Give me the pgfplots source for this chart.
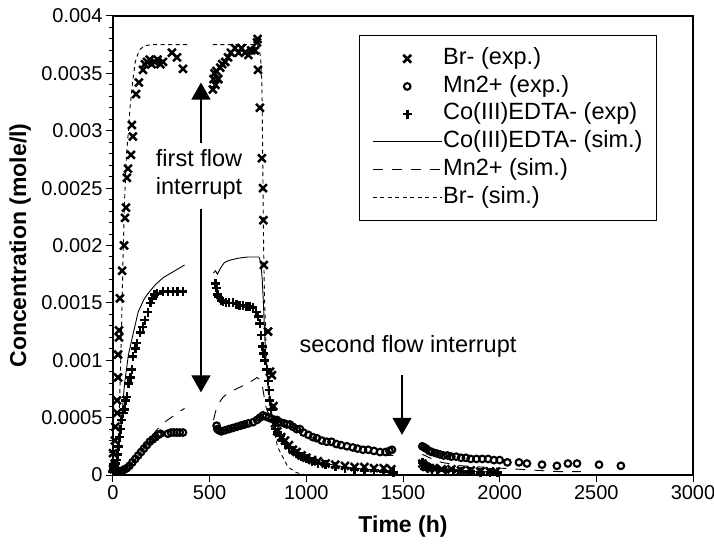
\documentclass[border=0pt]{standalone}
\usepackage{fontspec}
\setmainfont{Liberation Sans}
\usepackage{pgfplots}
\pgfplotsset{compat=1.18}
\usetikzlibrary{arrows.meta}

\pgfplotsset{
  leglines/.style={legend image code/.code={\draw[##1] (0pt,0pt) -- (69pt,0pt);}},
  legmarks/.style={legend image code/.code={\draw[mark repeat=2,mark phase=2,##1] plot coordinates {(0pt,0pt)(34.5pt,0pt)(69pt,0pt)};}},
}

\begin{document}
\begin{tikzpicture}
\begin{axis}[
  width=580pt, height=459pt, scale only axis,
  xmin=0, xmax=3000, ymin=0, ymax=0.004,
  xtick={0,500,1000,1500,2000,2500,3000},
  xticklabels={0,500,1000,1500,2000,2500,3000},
  ytick={0,0.0005,0.001,0.0015,0.002,0.0025,0.003,0.0035,0.004},
  yticklabels={0,0.0005,0.001,0.0015,0.002,0.0025,0.003,0.0035,0.004},
  scaled y ticks=false,
  minor y tick num=4,
  tick align=outside, xtick pos=bottom, ytick pos=left,
  major tick length=7pt, minor tick length=4pt,
  axis line style={line width=1.2pt},
  every tick/.style={black, line width=1pt},
  tick label style={font=\fontsize{20}{23}\selectfont},
  xlabel={Time (h)}, ylabel={Concentration (mole/l)},
  label style={font=\fontsize{23}{26}\selectfont\bfseries},
  xlabel style={at={(axis description cs:0.5,-0.113)}, anchor=center},
  ylabel style={at={(axis description cs:-0.160,0.5)}, anchor=center},
  unbounded coords=jump,
  legend cell align=left,
  legend style={at={(rel axis cs:0.9379,0.9586)}, anchor=north east,
    draw=black, line width=1pt, inner xsep=13pt, inner ysep=11pt,
    row sep=3.2pt,
    font=\fontsize{23.5}{28}\selectfont,
    nodes={inner sep=1pt, text height=17pt, text depth=5.5pt}},
]

% Br- (exp.)
\addplot[only marks, line width=2.5pt, mark=x, mark size=5.5pt, legmarks] coordinates {
(3,0.00005)(8,0.0001)(0,0.00019)(10,0.0003)(12,0.00042)(21,0.00054)(21,0.00065)(26,0.00085)(26,0.00105)(31,0.0012)(31,0.00126)(36,0.00154)(47,0.00178)(57,0.0020)(62,0.00224)(67,0.00233)(72,0.00259)(78,0.00267)(93,0.00279)(98,0.00305)(103,0.00295)(119,0.00332)(134,0.00342)(155,0.00353)(165,0.00358)(176,0.0036)(190,0.00362)(200,0.00358)(215,0.0036)(230,0.00362)(245,0.00358)(259,0.0036)(305,0.00368)(331,0.00364)(362,0.00354)
(517,0.00336)(520,0.00345)(525,0.0035)(530,0.0034)(535,0.00352)(545,0.00345)(555,0.00355)(565,0.00358)(580,0.0036)(595,0.00364)(610,0.00368)(631,0.00372)(650,0.00368)(665,0.00372)(683,0.00368)(700,0.00366)(715,0.0037)(734,0.0037)(745,0.00377)(748,0.0038)(750,0.00353)(760,0.0032)(770,0.00276)(776,0.0025)(778,0.00222)(780,0.00183)(802,0.00125)(812,0.0009)(822,0.00087)(830,0.0006)(838,0.00045)(850,0.00038)(870,0.00033)(890,0.0003)(910,0.00026)(930,0.00022)(950,0.0002)(975,0.00017)(1000,0.00015)(1030,0.00013)(1060,0.00012)(1100,0.0001)(1150,0.00009)(1200,0.00008)(1250,0.00007)(1300,0.00007)(1350,0.00006)(1400,0.00006)(1440,0.00005)
(1600,0.0001)(1610,0.00008)(1620,0.00007)(1640,0.00006)(1660,0.00006)(1700,0.00005)(1750,0.00005)(1800,0.00004)(1850,0.00004)(1900,0.00003)(1950,0.00003)(1980,0.00003)
};
\addlegendentry{Br- (exp.)}

% Mn2+ (exp.)
\addplot[only marks, line width=2.1pt, mark=o, mark size=3.3pt, legmarks] coordinates {
(0,0.00008)(5,0.00006)(10,0.00005)(15,0.00004)(20,0.00004)(25,0.00003)(30,0.00003)(40,0.00003)(50,0.00004)(60,0.00005)(72,0.00006)(85,0.00008)(100,0.00011)(115,0.00014)(130,0.00017)(145,0.0002)(160,0.00023)(175,0.00026)(190,0.00029)(205,0.00031)(220,0.00033)(235,0.00035)(245,0.00036)(284,0.00036)(300,0.00037)(315,0.00037)(330,0.00037)(345,0.00037)(362,0.00037)
(536,0.00043)(540,0.0004)(548,0.00039)(560,0.00038)(580,0.00039)(600,0.0004)(620,0.00041)(640,0.00042)(660,0.00043)(680,0.00044)(700,0.00045)(724,0.00046)(745,0.00048)(760,0.0005)(776,0.00052)(790,0.00051)(805,0.0005)(820,0.00049)(835,0.00048)(848,0.00048)(865,0.00046)(885,0.00045)(900,0.00044)(915,0.00044)(931,0.00042)(950,0.0004)(967,0.0004)(985,0.00037)(1010,0.00035)(1034,0.00033)(1055,0.00032)(1080,0.0003)(1105,0.00029)(1130,0.00029)(1155,0.00027)(1180,0.00026)(1210,0.00025)(1240,0.00024)(1265,0.00023)(1293,0.00022)(1320,0.00022)(1350,0.00021)(1381,0.0002)(1410,0.0002)(1430,0.00021)(1443,0.00022)
(1600,0.00025)(1610,0.00024)(1620,0.00023)(1635,0.00021)(1650,0.0002)(1670,0.00019)(1690,0.00018)(1710,0.00017)(1730,0.00017)(1750,0.00016)(1775,0.00016)(1800,0.00015)(1825,0.00015)(1850,0.00014)(1880,0.00014)(1910,0.00014)(1940,0.00014)(1970,0.00013)(2000,0.00013)(2040,0.00011)(2100,0.00011)(2141,0.0001)(2219,0.00009)(2296,0.00008)(2353,0.0001)(2400,0.0001)(2514,0.00009)(2627,0.00008)
};
\addlegendentry{Mn2+ (exp.)}

% Co(III)EDTA- (exp)
\addplot[only marks, line width=2.7pt, mark=+, mark size=4.5pt, legmarks] coordinates {
(0,0.00003)(5,0.00005)(10,0.00008)(15,0.0001)(20,0.00013)(25,0.00018)(30,0.00025)(35,0.00033)(40,0.0004)(45,0.00048)(52,0.00054)(60,0.00057)(65,0.00065)(72,0.00068)(80,0.0008)(90,0.00085)(98,0.00092)(103,0.00103)(115,0.0011)(124,0.00115)(140,0.00124)(155,0.00129)(165,0.00135)(181,0.00142)(195,0.0015)(202,0.00154)(215,0.00157)(228,0.00158)(259,0.0016)(285,0.0016)(310,0.0016)(335,0.0016)(362,0.0016)
(530,0.00167)(536,0.00163)(540,0.00157)(548,0.00155)(560,0.00152)(569,0.00151)(585,0.0015)(600,0.0015)(621,0.0015)(640,0.00149)(655,0.00148)(672,0.00148)(690,0.00147)(705,0.00147)(724,0.00146)(740,0.00142)(750,0.00138)(760,0.00132)(766,0.00122)(772,0.00112)(780,0.00106)(786,0.001)(796,0.00092)(802,0.00082)(807,0.00074)(812,0.00065)(818,0.00057)(828,0.00048)(838,0.0004)(850,0.00037)(864,0.00034)(877,0.0003)(890,0.00027)(910,0.00024)(930,0.00021)(950,0.00019)(975,0.00016)(1000,0.00014)(1030,0.00012)(1060,0.0001)(1100,0.00009)(1150,0.00007)(1200,0.00006)(1250,0.00005)(1300,0.00004)(1350,0.00004)(1400,0.00003)(1450,0.00002)
(1600,0.00011)(1605,0.00009)(1615,0.00007)(1630,0.00006)(1650,0.00005)(1680,0.00005)(1720,0.00004)(1760,0.00004)(1800,0.00003)(1850,0.00003)(1900,0.00002)(1950,0.00002)(1990,0.00002)
};
\addlegendentry{Co(III)EDTA- (exp)}

% Co(III)EDTA- (sim.)
\addplot[black, line width=0.9pt, leglines] coordinates {
(0,0)(20,0.0001)(40,0.0004)(60,0.0008)(80,0.00105)(100,0.0012)(130,0.00142)(160,0.00153)(180,0.00158)(220,0.00166)(260,0.00172)(300,0.00176)(340,0.0018)(370,0.00183)
(450,nan)
(520,0.00176)(530,0.00178)(540,0.00175)(555,0.0018)(575,0.00185)(600,0.00187)(650,0.00189)(700,0.0019)(755,0.0019)(765,0.00185)(772,0.0017)(778,0.0015)(785,0.0012)(792,0.001)(800,0.0008)(815,0.0006)(830,0.00045)(850,0.00035)(900,0.00025)(950,0.00019)(1000,0.00015)(1100,0.0001)(1200,0.00007)(1300,0.00005)(1450,0.00003)
(1500,nan)
(1600,0.0001)(1700,0.00006)(1800,0.00004)(1900,0.00003)(2000,0.00002)
};
\addlegendentry{Co(III)EDTA- (sim.)}

% Mn2+ (sim.)
\addplot[black, line width=0.9pt, dash pattern=on 10pt off 9pt, leglines] coordinates {
(0,0)(50,0.00003)(100,0.0001)(150,0.00022)(200,0.00034)(250,0.00044)(300,0.0005)(340,0.00055)(370,0.00058)
(450,nan)
(520,0.00048)(530,0.00055)(545,0.00062)(570,0.00068)(600,0.00072)(650,0.00076)(700,0.0008)(745,0.00085)(760,0.00083)(770,0.0008)(780,0.0007)(790,0.0006)(800,0.00055)(820,0.0005)(850,0.00047)(900,0.00043)(950,0.00039)(1000,0.00035)(1100,0.00027)(1200,0.00023)(1300,0.0002)(1400,0.00017)(1450,0.00017)
(1500,nan)
(1600,0.00018)(1650,0.00014)(1700,0.00011)(1800,0.00008)(1900,0.00007)(2000,0.00006)(2100,0.00005)(2200,0.00004)(2300,0.00003)(2420,0.00003)
};
\addlegendentry{Mn2+ (sim.)}

% Br- (sim.)
\addplot[black, line width=0.9pt, dash pattern=on 4pt off 3.5pt, leglines] coordinates {
(0,0)(20,0.0001)(30,0.0004)(40,0.001)(47,0.0015)(52,0.0019)(60,0.0024)(70,0.0028)(80,0.0030)(88,0.0032)(100,0.0034)(115,0.0036)(135,0.0037)(160,0.00374)(200,0.00375)(383,0.00375)
(450,nan)
(517,0.00375)(748,0.00375)(758,0.0037)(765,0.0036)(770,0.0034)(773,0.003)(776,0.0025)(779,0.002)(783,0.0016)(790,0.0012)(796,0.0009)(804,0.0007)(812,0.0006)(825,0.00047)(838,0.00036)(850,0.00025)(874,0.00017)(905,0.00007)(950,0.00002)(1000,0)(1450,0)
};
\addlegendentry{Br- (sim.)}

% annotations
\draw[line width=1.2pt, -{Triangle[width=19pt,length=17pt]}] (axis cs:455,0.00289) -- (axis cs:455,0.00342);
\draw[line width=1.2pt, -{Triangle[width=19pt,length=17pt]}] (axis cs:455,0.00232) -- (axis cs:455,0.00072);
\draw[line width=1.2pt, -{Triangle[width=19pt,length=17pt]}] (axis cs:1495,0.00087) -- (axis cs:1495,0.00035);
\node[align=center, font=\fontsize{23.5}{28}\selectfont] at (axis cs:445,0.00262) {first flow\\interrupt};
\node[font=\fontsize{23.5}{28}\selectfont] at (axis cs:1526,0.00112) {second flow interrupt};
\end{axis}
\pgfresetboundingbox
\path (-113pt,-73pt) rectangle (601pt,475pt);
\end{tikzpicture}
\end{document}
